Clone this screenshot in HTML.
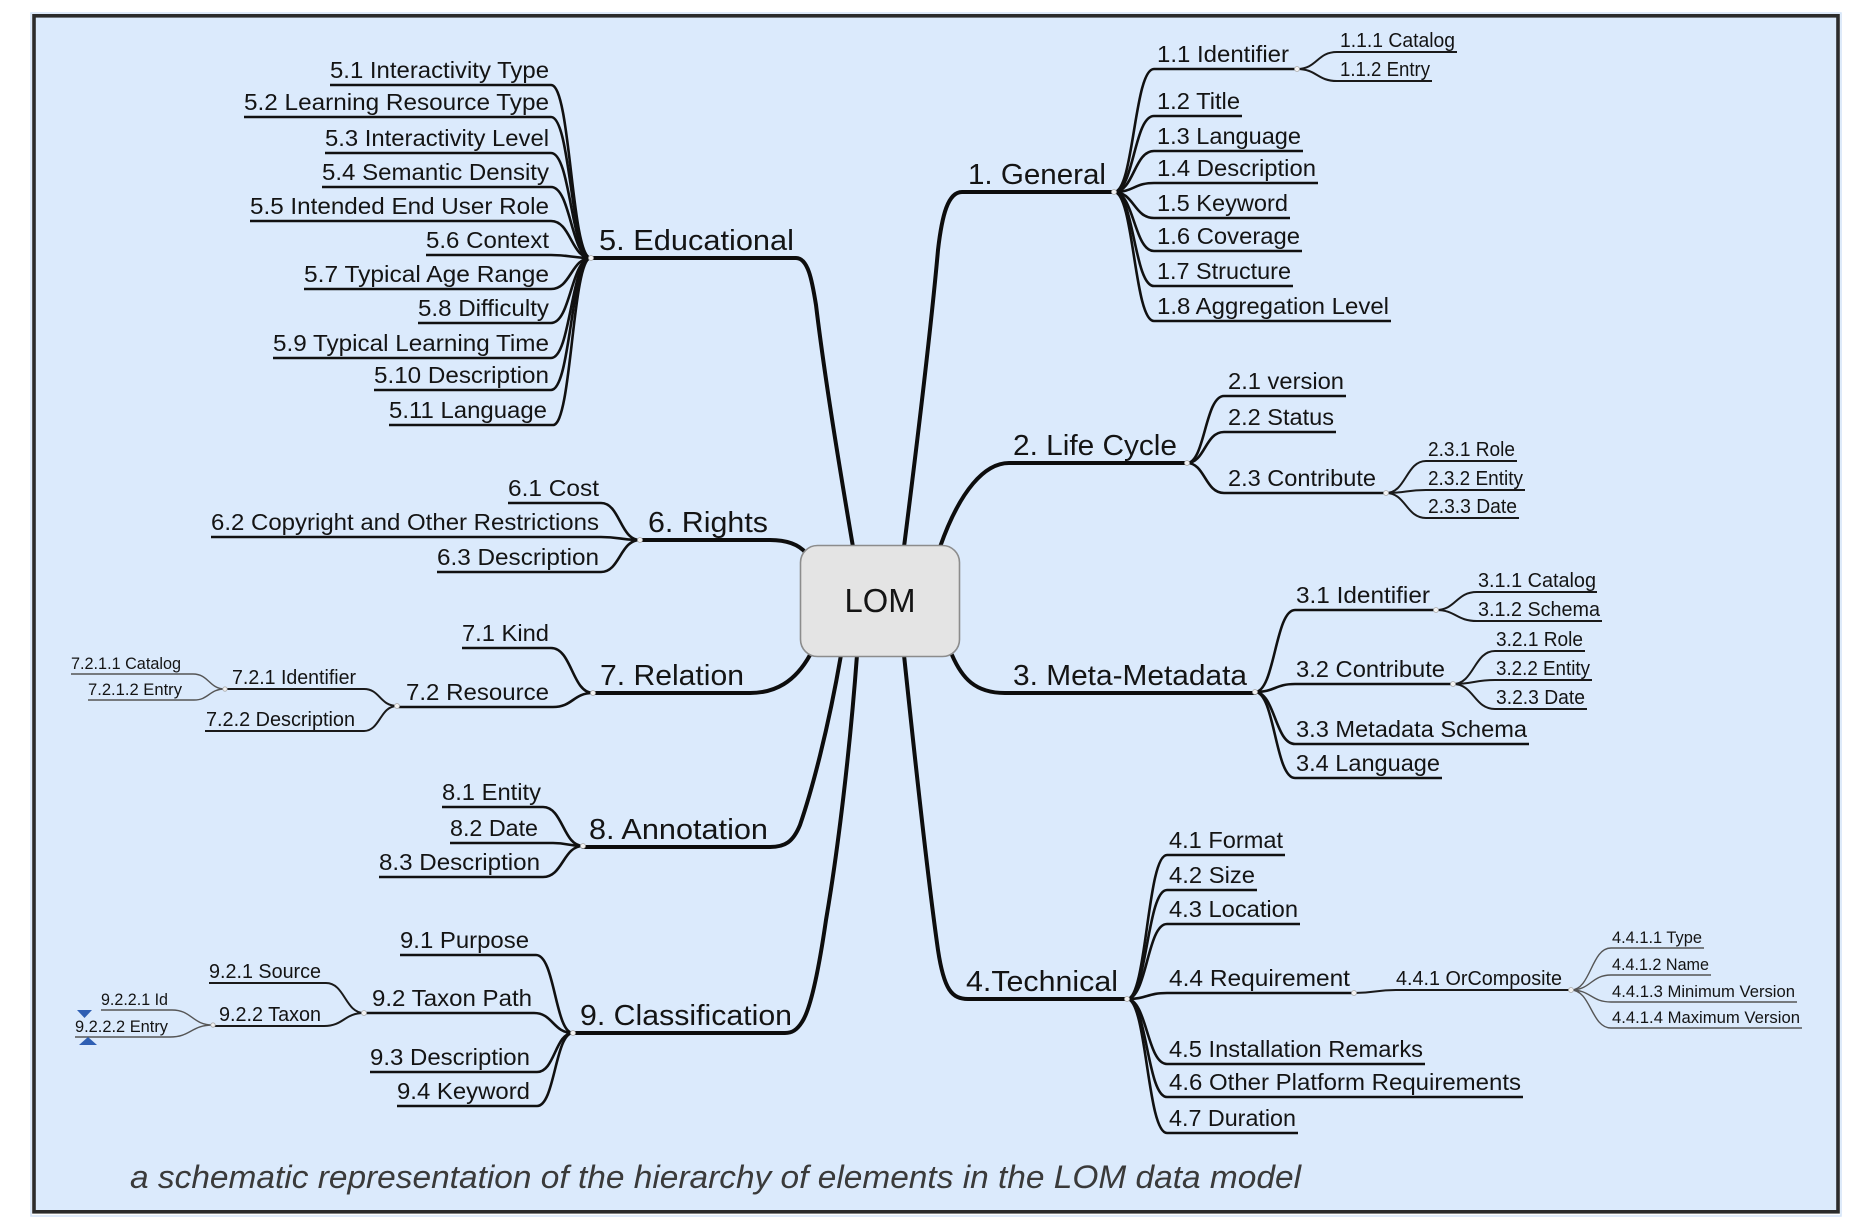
<!DOCTYPE html>
<html>
<head>
<meta charset="utf-8">
<style>
html,body{margin:0;padding:0;background:#fff;}
svg{display:block;}
text{font-family:"Liberation Sans",Arial,sans-serif;fill:#141414;}
.l1{font-size:29px;}
.l2{font-size:23.5px;}
.l3{font-size:20px;}
.l4{font-size:16.5px;}
.cap{font-size:32px;font-style:italic;fill:#3a3a3a;}
.m{fill:none;stroke:#0d0d0d;stroke-width:4;stroke-linecap:round;}
.e2{fill:none;stroke:#111;stroke-width:2.6;}
.e3{fill:none;stroke:#1a1a1a;stroke-width:2;}
.e4{fill:none;stroke:#555;stroke-width:1.4;}
.d{fill:#f2f2f2;stroke:#aaa;stroke-width:0.8;}
</style>
</head>
<body>
<svg width="1856" height="1230" viewBox="0 0 1856 1230" xmlns="http://www.w3.org/2000/svg">
<rect x="0" y="0" width="1856" height="1230" fill="#ffffff"/>
<rect x="31" y="13" width="1810" height="1203" fill="none" stroke="#d3e4f8" stroke-width="1.5"/>
<rect x="34" y="15.8" width="1804" height="1196" fill="#dbeafc" stroke="#2b2b2b" stroke-width="3.6"/>

<!-- Main branches -->
<path class="m" d="M591 258 H796 C808 258 812 280 816 305 C825 380 840 470 853 547"/>
<path class="m" d="M1114 192 H962 C948 192 942 215 938 250 C930 340 915 460 904 547"/>
<path class="m" d="M1187 463 H1009 C985 463 960 490 940 547"/>
<path class="m" d="M1255 693 H1005 C975 693 962 678 952 655"/>
<path class="m" d="M1127 999 H968 C952 999 944 990 938 950 C928 880 915 760 904 655"/>
<path class="m" d="M640 540 H770 C790 540 800 546 806 553"/>
<path class="m" d="M593 693 H750 C775 693 795 682 810 655"/>
<path class="m" d="M583 847 H770 C785 847 793 842 800 825 C812 790 828 730 841 655"/>
<path class="m" d="M573 1033 H785 C792 1033 797 1030 802 1022 C810 1010 818 975 826 920 C838 850 850 750 857 655"/>

<!-- Educational children -->
<path class="e2" d="M330 85 H551 C571 85 571 258 591 258"/>
<path class="e2" d="M244 117 H551 C571 117 571 258 591 258"/>
<path class="e2" d="M325 153 H551 C571 153 571 258 591 258"/>
<path class="e2" d="M322 187 H551 C571 187 571 258 591 258"/>
<path class="e2" d="M250 221 H551 C571 221 571 258 591 258"/>
<path class="e2" d="M426 255 H551 C571 255 571 258 591 258"/>
<path class="e2" d="M304 289 H551 C571 289 571 258 591 258"/>
<path class="e2" d="M418 323 H551 C571 323 571 258 591 258"/>
<path class="e2" d="M273 358 H551 C571 358 571 258 591 258"/>
<path class="e2" d="M374 390 H551 C571 390 571 258 591 258"/>
<path class="e2" d="M389 425 H553 C572 425 572 258 591 258"/>

<!-- Rights children -->
<path class="e2" d="M508 503 H601 C620 503 620 540 640 540"/>
<path class="e2" d="M211 537 H601 C620 537 620 540 640 540"/>
<path class="e2" d="M437 572 H601 C620 572 620 540 640 540"/>

<!-- Relation children -->
<path class="e2" d="M462 648 H551 C572 648 572 693 593 693"/>
<path class="e2" d="M397 707 H553 C573 707 573 693 593 693"/>
<path class="e3" d="M225 689 H364 C380 689 380 706 397 706"/>
<path class="e3" d="M205 731 H364 C380 731 380 706 397 706"/>
<path class="e4" d="M71 674 H193 C209 674 209 689 225 689"/>
<path class="e4" d="M88 700 H194 C209 700 209 689 225 689"/>

<!-- Annotation children -->
<path class="e2" d="M442 807 H543 C563 807 563 846 583 846"/>
<path class="e2" d="M450 843 H553 C568 843 568 846 583 846"/>
<path class="e2" d="M379 877 H543 C563 877 563 846 583 846"/>

<!-- Classification children -->
<path class="e2" d="M400 955 H536 C555 955 555 1033 573 1033"/>
<path class="e2" d="M364 1013 H534 C553 1013 553 1033 573 1033"/>
<path class="e2" d="M370 1072 H537 C555 1072 555 1033 573 1033"/>
<path class="e2" d="M397 1106 H537 C555 1106 555 1033 573 1033"/>
<path class="e3" d="M209 983 H326 C345 983 345 1013 364 1013"/>
<path class="e3" d="M213 1026 H324 C344 1026 344 1013 364 1013"/>
<path class="e4" d="M101 1010 H172 C192 1010 192 1025 213 1025"/>
<path class="e4" d="M75 1037 H170 C191 1037 191 1025 213 1025"/>

<!-- General children -->
<path class="e2" d="M1114 192 C1134 192 1134 69 1154 69 H1297"/>
<path class="e2" d="M1114 192 C1134 192 1134 116 1154 116 H1242"/>
<path class="e2" d="M1114 192 C1134 192 1134 151 1154 151 H1303"/>
<path class="e2" d="M1114 192 C1134 192 1134 183 1154 183 H1318"/>
<path class="e2" d="M1114 192 C1134 192 1134 218 1154 218 H1290"/>
<path class="e2" d="M1114 192 C1134 192 1134 251 1154 251 H1302"/>
<path class="e2" d="M1114 192 C1134 192 1134 286 1154 286 H1293"/>
<path class="e2" d="M1114 192 C1134 192 1134 321 1154 321 H1391"/>
<path class="e3" d="M1297 69 C1317 69 1317 52 1337 52 H1457"/>
<path class="e3" d="M1297 69 C1317 69 1317 81 1337 81 H1432"/>

<!-- Life Cycle children -->
<path class="e2" d="M1187 463 C1205 463 1205 396 1224 396 H1346"/>
<path class="e2" d="M1187 463 C1205 463 1205 432 1224 432 H1336"/>
<path class="e2" d="M1187 463 C1205 463 1205 493 1224 493 H1386"/>
<path class="e3" d="M1386 493 C1406 493 1406 461 1426 461 H1517"/>
<path class="e3" d="M1386 493 C1406 493 1406 490 1426 490 H1525"/>
<path class="e3" d="M1386 493 C1406 493 1406 518 1426 518 H1519"/>

<!-- Meta-Metadata children -->
<path class="e2" d="M1255 692 C1275 692 1275 610 1295 610 H1436"/>
<path class="e2" d="M1255 692 C1275 692 1275 684 1295 684 H1453"/>
<path class="e2" d="M1255 692 C1275 692 1275 744 1295 744 H1529"/>
<path class="e2" d="M1255 692 C1275 692 1275 778 1295 778 H1442"/>
<path class="e3" d="M1436 610 C1456 610 1456 592 1477 592 H1597"/>
<path class="e3" d="M1436 610 C1456 610 1456 621 1477 621 H1602"/>
<path class="e3" d="M1453 684 C1474 684 1474 651 1495 651 H1585"/>
<path class="e3" d="M1453 684 C1474 684 1474 680 1495 680 H1592"/>
<path class="e3" d="M1453 684 C1474 684 1474 709 1495 709 H1587"/>

<!-- Technical children -->
<path class="e2" d="M1127 999 C1147 999 1147 855 1167 855 H1285"/>
<path class="e2" d="M1127 999 C1147 999 1147 890 1167 890 H1257"/>
<path class="e2" d="M1127 999 C1147 999 1147 924 1167 924 H1300"/>
<path class="e2" d="M1127 999 C1147 999 1147 993 1167 993 H1354"/>
<path class="e2" d="M1127 999 C1147 999 1147 1064 1167 1064 H1425"/>
<path class="e2" d="M1127 999 C1147 999 1147 1097 1167 1097 H1523"/>
<path class="e2" d="M1127 999 C1147 999 1147 1133 1167 1133 H1298"/>
<path class="e3" d="M1354 993 C1375 993 1375 990 1396 990 H1571"/>
<path class="e4" d="M1571 990 C1591 990 1591 948 1611 948 H1704"/>
<path class="e4" d="M1571 990 C1591 990 1591 975 1611 975 H1711"/>
<path class="e4" d="M1571 990 C1591 990 1591 1002 1611 1002 H1797"/>
<path class="e4" d="M1571 990 C1591 990 1591 1028 1611 1028 H1802"/>

<!-- Central node -->
<rect x="800.5" y="545.5" width="159" height="111" rx="17" ry="17" fill="#e4e4e4" stroke="#8c8c8c" stroke-width="1.6"/>
<text x="880" y="612" text-anchor="middle" style="font-size:33px" textLength="71" lengthAdjust="spacingAndGlyphs">LOM</text>

<!-- Junction dots -->
<circle class="d" cx="591" cy="258" r="2.5"/>
<circle class="d" cx="640" cy="540" r="2.5"/>
<circle class="d" cx="593" cy="693" r="2.5"/>
<circle class="d" cx="397" cy="706" r="2.5"/>
<circle class="d" cx="225" cy="689" r="2.2"/>
<circle class="d" cx="583" cy="846" r="2.5"/>
<circle class="d" cx="573" cy="1033" r="2.5"/>
<circle class="d" cx="364" cy="1013" r="2.5"/>
<circle class="d" cx="213" cy="1025" r="2.2"/>
<circle class="d" cx="1114" cy="192" r="2.5"/>
<circle class="d" cx="1297" cy="69" r="2.5"/>
<circle class="d" cx="1187" cy="463" r="2.5"/>
<circle class="d" cx="1386" cy="493" r="2.5"/>
<circle class="d" cx="1255" cy="692" r="2.5"/>
<circle class="d" cx="1436" cy="610" r="2.5"/>
<circle class="d" cx="1453" cy="684" r="2.5"/>
<circle class="d" cx="1127" cy="999" r="2.5"/>
<circle class="d" cx="1354" cy="993" r="2.5"/>
<circle class="d" cx="1571" cy="990" r="2.5"/>

<!-- Level 1 labels -->
<text class="l1" x="599" y="250" textLength="195" lengthAdjust="spacingAndGlyphs">5. Educational</text>
<text class="l1" x="648" y="532" textLength="120" lengthAdjust="spacingAndGlyphs">6. Rights</text>
<text class="l1" x="600" y="685" textLength="144" lengthAdjust="spacingAndGlyphs">7. Relation</text>
<text class="l1" x="589" y="839" textLength="179" lengthAdjust="spacingAndGlyphs">8. Annotation</text>
<text class="l1" x="580" y="1025" textLength="212" lengthAdjust="spacingAndGlyphs">9. Classification</text>
<text class="l1" x="968" y="184" textLength="138" lengthAdjust="spacingAndGlyphs">1. General</text>
<text class="l1" x="1013" y="455" textLength="164" lengthAdjust="spacingAndGlyphs">2. Life Cycle</text>
<text class="l1" x="1013" y="685" textLength="234" lengthAdjust="spacingAndGlyphs">3. Meta-Metadata</text>
<text class="l1" x="966" y="991" textLength="152" lengthAdjust="spacingAndGlyphs">4.Technical</text>

<!-- Level 2 labels: Educational -->
<text class="l2" x="330" y="78" textLength="219" lengthAdjust="spacingAndGlyphs">5.1 Interactivity Type</text>
<text class="l2" x="244" y="110" textLength="305" lengthAdjust="spacingAndGlyphs">5.2 Learning Resource Type</text>
<text class="l2" x="325" y="146" textLength="224" lengthAdjust="spacingAndGlyphs">5.3 Interactivity Level</text>
<text class="l2" x="322" y="180" textLength="227" lengthAdjust="spacingAndGlyphs">5.4 Semantic Density</text>
<text class="l2" x="250" y="214" textLength="299" lengthAdjust="spacingAndGlyphs">5.5 Intended End User Role</text>
<text class="l2" x="426" y="248" textLength="123" lengthAdjust="spacingAndGlyphs">5.6 Context</text>
<text class="l2" x="304" y="282" textLength="245" lengthAdjust="spacingAndGlyphs">5.7 Typical Age Range</text>
<text class="l2" x="418" y="316" textLength="131" lengthAdjust="spacingAndGlyphs">5.8 Difficulty</text>
<text class="l2" x="273" y="351" textLength="276" lengthAdjust="spacingAndGlyphs">5.9 Typical Learning Time</text>
<text class="l2" x="374" y="383" textLength="175" lengthAdjust="spacingAndGlyphs">5.10 Description</text>
<text class="l2" x="389" y="418" textLength="158" lengthAdjust="spacingAndGlyphs">5.11 Language</text>

<!-- Rights -->
<text class="l2" x="508" y="496" textLength="91" lengthAdjust="spacingAndGlyphs">6.1 Cost</text>
<text class="l2" x="211" y="530" textLength="388" lengthAdjust="spacingAndGlyphs">6.2 Copyright and Other Restrictions</text>
<text class="l2" x="437" y="565" textLength="162" lengthAdjust="spacingAndGlyphs">6.3 Description</text>

<!-- Relation -->
<text class="l2" x="462" y="641" textLength="87" lengthAdjust="spacingAndGlyphs">7.1 Kind</text>
<text class="l2" x="406" y="700" textLength="143" lengthAdjust="spacingAndGlyphs">7.2 Resource</text>
<text class="l3" x="232" y="684" textLength="124" lengthAdjust="spacingAndGlyphs">7.2.1 Identifier</text>
<text class="l3" x="206" y="726" textLength="149" lengthAdjust="spacingAndGlyphs">7.2.2 Description</text>
<text class="l4" x="71" y="669" textLength="110" lengthAdjust="spacingAndGlyphs">7.2.1.1 Catalog</text>
<text class="l4" x="88" y="695" textLength="94" lengthAdjust="spacingAndGlyphs">7.2.1.2 Entry</text>

<!-- Annotation -->
<text class="l2" x="442" y="800" textLength="99" lengthAdjust="spacingAndGlyphs">8.1 Entity</text>
<text class="l2" x="450" y="836" textLength="88" lengthAdjust="spacingAndGlyphs">8.2 Date</text>
<text class="l2" x="379" y="870" textLength="161" lengthAdjust="spacingAndGlyphs">8.3 Description</text>

<!-- Classification -->
<text class="l2" x="400" y="948" textLength="129" lengthAdjust="spacingAndGlyphs">9.1 Purpose</text>
<text class="l2" x="372" y="1006" textLength="160" lengthAdjust="spacingAndGlyphs">9.2 Taxon Path</text>
<text class="l2" x="370" y="1065" textLength="160" lengthAdjust="spacingAndGlyphs">9.3 Description</text>
<text class="l2" x="397" y="1099" textLength="133" lengthAdjust="spacingAndGlyphs">9.4 Keyword</text>
<text class="l3" x="209" y="978" textLength="112" lengthAdjust="spacingAndGlyphs">9.2.1 Source</text>
<text class="l3" x="219" y="1021" textLength="102" lengthAdjust="spacingAndGlyphs">9.2.2 Taxon</text>
<text class="l4" x="101" y="1005" textLength="67" lengthAdjust="spacingAndGlyphs">9.2.2.1 Id</text>
<text class="l4" x="75" y="1032" textLength="93" lengthAdjust="spacingAndGlyphs">9.2.2.2 Entry</text>
<polygon points="77,1010 92,1010 84.5,1018" fill="#2f5fb3"/>
<polygon points="79,1045 97,1045 88,1037" fill="#2f5fb3"/>

<!-- General -->
<text class="l2" x="1157" y="62" textLength="132" lengthAdjust="spacingAndGlyphs">1.1 Identifier</text>
<text class="l2" x="1157" y="109" textLength="83" lengthAdjust="spacingAndGlyphs">1.2 Title</text>
<text class="l2" x="1157" y="144" textLength="144" lengthAdjust="spacingAndGlyphs">1.3 Language</text>
<text class="l2" x="1157" y="176" textLength="159" lengthAdjust="spacingAndGlyphs">1.4 Description</text>
<text class="l2" x="1157" y="211" textLength="131" lengthAdjust="spacingAndGlyphs">1.5 Keyword</text>
<text class="l2" x="1157" y="244" textLength="143" lengthAdjust="spacingAndGlyphs">1.6 Coverage</text>
<text class="l2" x="1157" y="279" textLength="134" lengthAdjust="spacingAndGlyphs">1.7 Structure</text>
<text class="l2" x="1157" y="314" textLength="232" lengthAdjust="spacingAndGlyphs">1.8 Aggregation Level</text>
<text class="l3" x="1340" y="47" textLength="115" lengthAdjust="spacingAndGlyphs">1.1.1 Catalog</text>
<text class="l3" x="1340" y="76" textLength="90" lengthAdjust="spacingAndGlyphs">1.1.2 Entry</text>

<!-- Life Cycle -->
<text class="l2" x="1228" y="389" textLength="116" lengthAdjust="spacingAndGlyphs">2.1 version</text>
<text class="l2" x="1228" y="425" textLength="106" lengthAdjust="spacingAndGlyphs">2.2 Status</text>
<text class="l2" x="1228" y="486" textLength="148" lengthAdjust="spacingAndGlyphs">2.3 Contribute</text>
<text class="l3" x="1428" y="456" textLength="87" lengthAdjust="spacingAndGlyphs">2.3.1 Role</text>
<text class="l3" x="1428" y="485" textLength="95" lengthAdjust="spacingAndGlyphs">2.3.2 Entity</text>
<text class="l3" x="1428" y="513" textLength="89" lengthAdjust="spacingAndGlyphs">2.3.3 Date</text>

<!-- Meta-Metadata -->
<text class="l2" x="1296" y="603" textLength="134" lengthAdjust="spacingAndGlyphs">3.1 Identifier</text>
<text class="l2" x="1296" y="677" textLength="149" lengthAdjust="spacingAndGlyphs">3.2 Contribute</text>
<text class="l2" x="1296" y="737" textLength="231" lengthAdjust="spacingAndGlyphs">3.3 Metadata Schema</text>
<text class="l2" x="1296" y="771" textLength="144" lengthAdjust="spacingAndGlyphs">3.4 Language</text>
<text class="l3" x="1478" y="587" textLength="118" lengthAdjust="spacingAndGlyphs">3.1.1 Catalog</text>
<text class="l3" x="1478" y="616" textLength="122" lengthAdjust="spacingAndGlyphs">3.1.2 Schema</text>
<text class="l3" x="1496" y="646" textLength="87" lengthAdjust="spacingAndGlyphs">3.2.1 Role</text>
<text class="l3" x="1496" y="675" textLength="94" lengthAdjust="spacingAndGlyphs">3.2.2 Entity</text>
<text class="l3" x="1496" y="704" textLength="89" lengthAdjust="spacingAndGlyphs">3.2.3 Date</text>

<!-- Technical -->
<text class="l2" x="1169" y="848" textLength="114" lengthAdjust="spacingAndGlyphs">4.1 Format</text>
<text class="l2" x="1169" y="883" textLength="86" lengthAdjust="spacingAndGlyphs">4.2 Size</text>
<text class="l2" x="1169" y="917" textLength="129" lengthAdjust="spacingAndGlyphs">4.3 Location</text>
<text class="l2" x="1169" y="986" textLength="181" lengthAdjust="spacingAndGlyphs">4.4 Requirement</text>
<text class="l2" x="1169" y="1057" textLength="254" lengthAdjust="spacingAndGlyphs">4.5 Installation Remarks</text>
<text class="l2" x="1169" y="1090" textLength="352" lengthAdjust="spacingAndGlyphs">4.6 Other Platform Requirements</text>
<text class="l2" x="1169" y="1126" textLength="127" lengthAdjust="spacingAndGlyphs">4.7 Duration</text>
<text class="l3" x="1396" y="985" textLength="166" lengthAdjust="spacingAndGlyphs">4.4.1 OrComposite</text>
<text class="l4" x="1612" y="943" textLength="90" lengthAdjust="spacingAndGlyphs">4.4.1.1 Type</text>
<text class="l4" x="1612" y="970" textLength="97" lengthAdjust="spacingAndGlyphs">4.4.1.2 Name</text>
<text class="l4" x="1612" y="997" textLength="183" lengthAdjust="spacingAndGlyphs">4.4.1.3 Minimum Version</text>
<text class="l4" x="1612" y="1023" textLength="188" lengthAdjust="spacingAndGlyphs">4.4.1.4 Maximum Version</text>

<!-- Caption -->
<text class="cap" x="130" y="1188" textLength="1171" lengthAdjust="spacingAndGlyphs">a schematic representation of the hierarchy of elements in the LOM data model</text>
</svg>
</body>
</html>
